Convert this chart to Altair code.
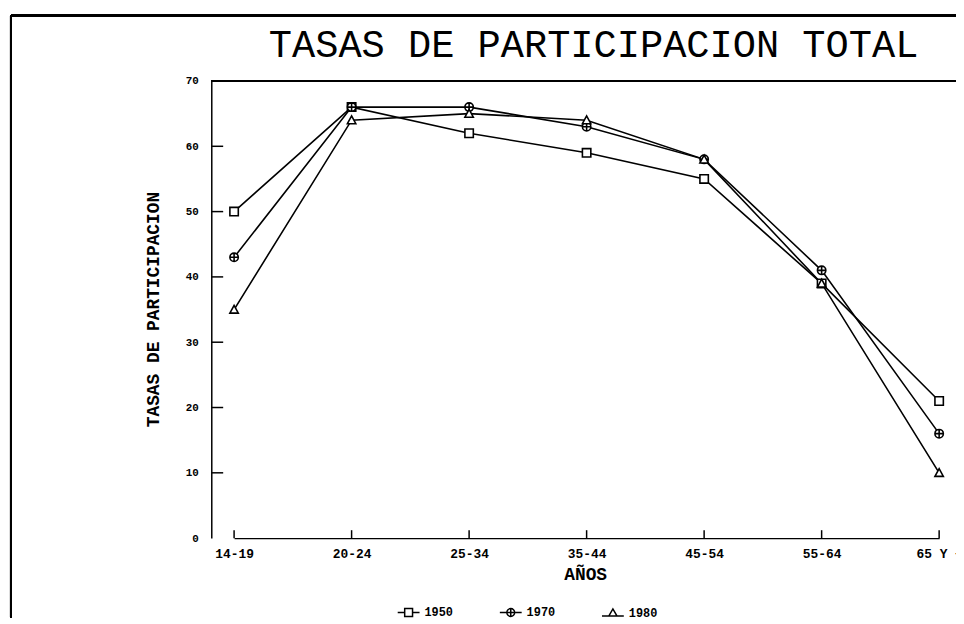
import altair as alt
import pandas as pd

# ---- data ----
grupos = ["14-19", "20-24", "25-34", "35-44", "45-54", "55-64", "65 Y +"]
anios = ["1950", "1970", "1980"]
v1950 = [50, 66, 62, 59, 55, 39, 21]
v1970 = [43, 66, 66, 63, 58, 41, 16]
v1980 = [35, 64, 65, 64, 58, 39, 10]
y_ticks = [0, 10, 20, 30, 40, 50, 60, 70]
y_inner_ticks = [10, 20, 30, 40, 50, 60]

rows = []
for anio, vals in zip(anios, [v1950, v1970, v1980]):
    for g, v in zip(grupos, vals):
        rows.append({"grupo": g, "anio": anio, "serie": anio, "tasa": v})
df = pd.DataFrame(rows)
df_yt = pd.DataFrame({"tasa": y_inner_ticks})
df_xt = pd.DataFrame({"grupo": grupos})

W, H = 751, 461
MONO = "Liberation Mono"

# marker shapes (plot) and legend shapes (with line segment through them)
plot_paths = [
    "M-1,-1H1V1H-1Z",
    "M-1,0A1,1 0 1,0 1,0A1,1 0 1,0 -1,0ZM0,-1V1M-1,0H1",
    "M-1,0.85L0,-1L1,0.85Z",
]
legend_paths = [
    "M-1,0H-0.36M-0.36,-0.36H0.36V0.36H-0.36ZM0.36,0H1",
    "M-1,0H1M-0.36,0A0.36,0.36 0 1,0 0.36,0A0.36,0.36 0 1,0 -0.36,0ZM0,-0.36V0.36",
    "M-1,0.3H1M-0.38,0.3L0,-0.36L0.38,0.3Z",
]

x_axis = alt.Axis(
    title="AÑOS", labelAngle=0, ticks=False, grid=False,
    labelFont=MONO, labelFontSize=13, labelFontWeight="bold", labelColor="black",
    labelPadding=10, domainColor="black", domainWidth=1.5,
    titleFont=MONO, titleFontSize=18, titleFontWeight="bold", titleColor="black",
    titleX=377, titleY=37, titleBaseline="middle",
)
x_scale = alt.Scale(type="point", range=[23, 734], padding=0)
x_enc = alt.X("grupo:N", sort=grupos, scale=x_scale, axis=x_axis)

y_axis = alt.Axis(
    values=y_ticks, ticks=False, grid=False,
    labelFont=MONO, labelFontSize=11, labelFontWeight="bold", labelColor="black",
    labelPadding=13, domainColor="black", domainWidth=1.5,
    title="TASAS DE PARTICIPACION",
    titleFont=MONO, titleFontSize=18, titleFontWeight="bold", titleColor="black",
    titleX=-58, titleY=230, titleBaseline="middle",
)
y_scale = alt.Scale(domain=[0, 70], nice=False)
y_enc = alt.Y("tasa:Q", scale=y_scale, axis=y_axis)

lines = alt.Chart(df).mark_line(color="black", strokeWidth=1.6).encode(
    x=x_enc, y=y_enc, detail="anio:N"
)
points = alt.Chart(df).mark_point(
    filled=True, fill="white", stroke="black", strokeWidth=1.6, size=72, opacity=1
).encode(
    x=x_enc, y=y_enc,
    shape=alt.Shape("anio:N", scale=alt.Scale(domain=anios, range=plot_paths), legend=None),
)
legend_layer = alt.Chart(df).mark_point(opacity=0, filled=False, color="black").encode(
    x=x_enc, y=y_enc,
    shape=alt.Shape(
        "serie:N",
        scale=alt.Scale(domain=anios, range=legend_paths),
        legend=alt.Legend(
            title=None, orient="none", direction="horizontal",
            legendX=187, legendY=524,
            symbolSize=484, symbolStrokeWidth=1.5, symbolStrokeColor="black",
            symbolFillColor="white", symbolOpacity=1,
            labelFont=MONO, labelFontSize=12, labelFontWeight="bold", labelColor="black",
            labelOffset=4, columnPadding=44,
        ),
    ),
)

y_tick_marks = alt.Chart(df_yt).mark_rule(color="black", strokeWidth=1.5).encode(
    y=y_enc, x=alt.value(0), x2=alt.value(12)
)
x_tick_marks = alt.Chart(df_xt).mark_rule(color="black", strokeWidth=1.5).encode(
    x=x_enc, y=alt.value(H - 8), y2=alt.value(H)
)
top_frame = alt.Chart(df_xt).mark_rule(color="black", strokeWidth=1.5).encode(
    x=alt.value(0), x2=alt.value(W), y=alt.value(0)
)
outer_top = alt.Chart(df_xt).mark_rule(color="black", strokeWidth=2).encode(
    x=alt.value(-202), x2=alt.value(W), y=alt.value(-66)
)
outer_left = alt.Chart(df_xt).mark_rule(color="black", strokeWidth=2).encode(
    x=alt.value(-202), y=alt.value(-66), y2=alt.value(H + 80)
)

chart = alt.layer(
    outer_top, outer_left, top_frame, y_tick_marks, x_tick_marks,
    lines, points, legend_layer,
).resolve_scale(shape="independent").properties(
    width=W, height=H,
    title=alt.TitleParams(
        "TASAS DE PARTICIPACION TOTAL", font=MONO, fontSize=39, fontWeight="normal",
        color="black", anchor="middle", frame="group", dx=10, dy=65, offset=14,
    ),
    autosize=alt.AutoSizeParams(type="none"),
    padding={"left": 205, "top": 71, "right": 0, "bottom": 84},
    background="white",
).configure_view(stroke=None)

chart.save("out.html", embed_options={"renderer": "svg", "actions": False})
